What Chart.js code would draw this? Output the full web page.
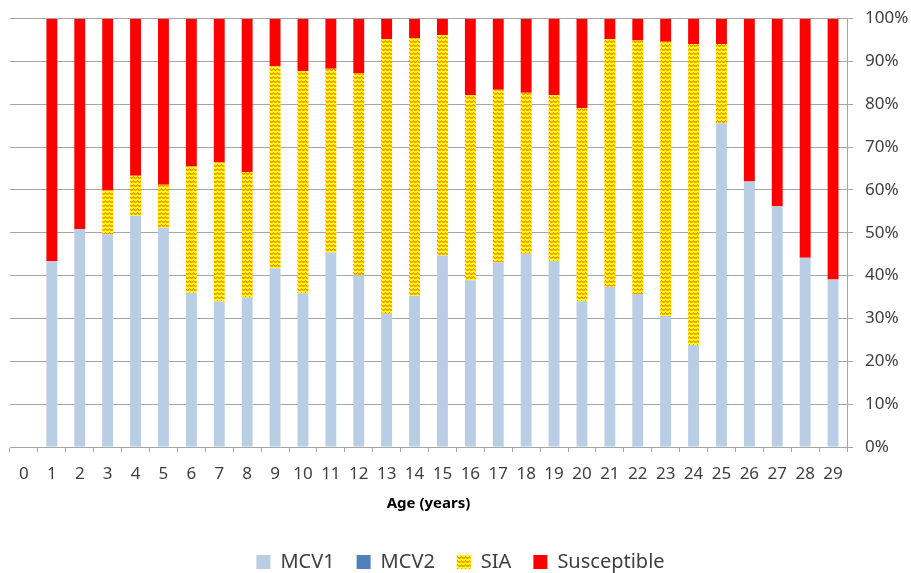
<!DOCTYPE html>
<html>
<head>
<meta charset="utf-8">
<script src="https://cdn.jsdelivr.net/npm/chart.js@4"></script>
<style>
  html, body { margin: 0; padding: 0; background: #fff; }
  #wrap { width: 911px; height: 573px; position: relative; }
</style>
</head>
<body>
<div id="wrap"><canvas id="c" width="911" height="573"></canvas></div>
<script>
// Age groups 0..29 years; share of each age group by immunity source (%)
const ages = ["0","1","2","3","4","5","6","7","8","9","10","11","12","13","14","15","16","17","18","19","20","21","22","23","24","25","26","27","28","29"];
const mcv1 = [null,43.4,50.9,49.6,54.0,51.2,36.0,34.0,34.9,41.7,35.9,45.4,40.1,31.1,35.3,44.7,38.9,43.1,45.1,43.4,34.0,37.4,35.7,30.6,23.8,75.6,62.0,56.2,44.2,39.1];
const mcv2 = [null,0,0,0,0,0,0,0,0,0,0,0,0,0,0,0,0,0,0,0,0,0,0,0,0,0,0,0,0,0];
const sia  = [null,0,0,10.3,9.3,10.0,29.5,32.4,29.3,47.2,51.8,42.9,47.2,64.1,60.2,51.5,43.2,40.3,37.6,38.7,45.1,57.8,59.2,64.0,70.3,18.5,0,0,0,0];
const susceptible = [null,56.6,49.1,40.1,36.7,38.8,34.5,33.6,35.8,11.1,12.3,11.7,12.7,4.8,4.5,3.8,17.9,16.6,17.3,17.9,20.9,4.8,5.1,5.4,5.9,5.9,38.0,43.8,55.8,60.9];
const yTicks = [0,10,20,30,40,50,60,70,80,90,100];

// Yellow fill with small orange zigzag rows for the SIA series
function siaPattern() {
  const p = document.createElement('canvas');
  p.width = 4; p.height = 4;
  const g = p.getContext('2d');
  g.fillStyle = '#FFFF00';
  g.fillRect(0, 0, 4, 4);
  g.fillStyle = '#FF8C00';
  [[0,1],[1,0],[2,1],[3,2]].forEach(([x, y]) => g.fillRect(x, y, 1, 1));
  g.fillStyle = '#FFC000';
  [[0,2],[2,2],[1,1],[3,1]].forEach(([x, y]) => g.fillRect(x, y, 1, 1));
  return g.createPattern(p, 'repeat');
}

const fontFamily = '"Noto Sans", "Open Sans", sans-serif';
const textColor = '#404040';
const gridColor = '#a6a6a6';

new Chart(document.getElementById('c'), {
  type: 'bar',
  data: {
    labels: ages,
    datasets: [
      { label: 'MCV1', data: mcv1, backgroundColor: '#B9CDE5' },
      { label: 'MCV2', data: mcv2, backgroundColor: '#4F81BD' },
      { label: 'SIA', data: sia, backgroundColor: siaPattern() },
      { label: 'Susceptible', data: susceptible, backgroundColor: '#FF0000' }
    ]
  },
  options: {
    responsive: false,
    animation: false,
    devicePixelRatio: 1,
    datasets: { bar: { barPercentage: 0.39, categoryPercentage: 1.0, borderWidth: 0 } },
    layout: { padding: { left: 10, top: 0, right: 0, bottom: -9 } },
    plugins: {
      tooltip: { enabled: false },
      legend: {
        position: 'bottom',
        labels: {
          boxWidth: 14, boxHeight: 14, padding: 22,
          color: textColor,
          font: { family: fontFamily, size: 20 }
        }
      }
    },
    scales: {
      x: {
        stacked: true,
        grid: {
          offset: true, drawOnChartArea: false, drawTicks: true,
          tickLength: 5, color: gridColor
        },
        border: { color: gridColor, width: 1 },
        ticks: {
          color: textColor, padding: 12, maxRotation: 0, autoSkip: false,
          font: { family: fontFamily, size: 17 }
        },
        title: {
          display: true, text: 'Age (years)', color: '#000',
          padding: { top: 10, bottom: 17 },
          font: { family: fontFamily, size: 15, weight: 'bold' }
        },
        afterFit: s => { s.height = 83; }
      },
      y: {
        stacked: true,
        position: 'right',
        min: 0, max: 100,
        afterBuildTicks: s => { s.ticks = yTicks.map(v => ({ value: v })); },
        grid: { color: gridColor, lineWidth: 1, tickLength: 6 },
        border: { color: gridColor, width: 1 },
        ticks: {
          color: textColor, padding: 12,
          font: { family: fontFamily, size: 17, lineHeight: 0.78 },
          callback: v => v + '%'
        },
        afterFit: s => { s.width = 64; }
      }
    }
  }
});
</script>
</body>
</html>
